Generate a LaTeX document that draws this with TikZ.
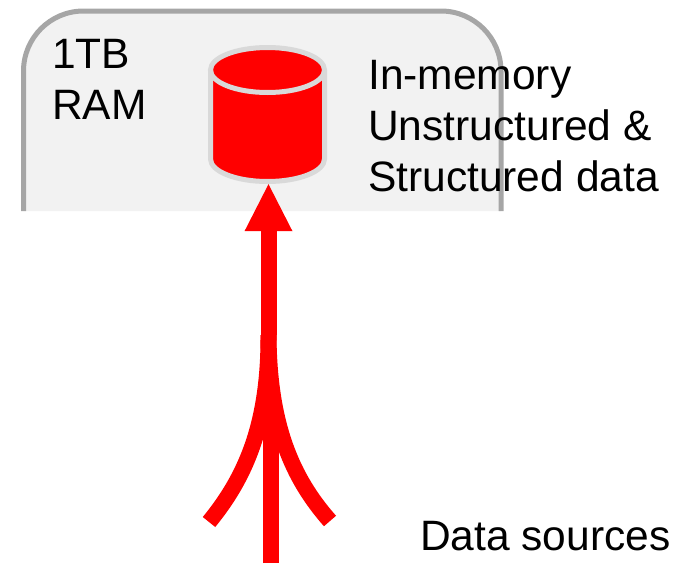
\documentclass[tikz,border=0pt]{standalone}
\usepackage{fontspec}
\setmainfont{Liberation Sans}
\usetikzlibrary{arrows.meta}
\definecolor{boxfill}{HTML}{F2F2F2}
\definecolor{boxline}{HTML}{A6A6A6}
\definecolor{dbline}{HTML}{D9D9D9}
\tikzset{
  label text/.style={anchor=north west,inner sep=0pt,align=left,font=\fontsize{42.5}{51}\selectfont,text=black},
  flow/.style={draw=red,line width=16pt,line cap=butt},
  flow head/.style={-{Triangle[length=47pt,width=48pt,color=red,line width=0pt]}},
  db edge/.style={draw=dbline,line width=5pt},
}
\begin{document}
\begin{tikzpicture}[x=1pt,y=-1pt]
\useasboundingbox (0,0) rectangle (689,563);
% RAM box, open at the bottom
\fill[boxfill] (23.5,211) -- (23.5,71) arc[start angle=180,end angle=270,radius=60] -- (441,11) arc[start angle=270,end angle=360,radius=60] -- (501,211) -- cycle;
\draw[boxline,line width=5pt] (23.5,211) -- (23.5,71) arc[start angle=180,end angle=270,radius=60] -- (441,11) arc[start angle=270,end angle=360,radius=60] -- (501,211);
% Database cylinder
\path[fill=red] (210.5,70) -- (210.5,159) arc[x radius=57,y radius=22.5,start angle=180,end angle=0] -- (324.5,70) arc[x radius=57,y radius=22.5,start angle=0,end angle=-180] -- cycle;
\draw[db edge] (210.5,70) -- (210.5,159) arc[x radius=57,y radius=22.5,start angle=180,end angle=0] -- (324.5,70);
\draw[db edge] (267.5,70) ellipse[x radius=57,y radius=22.5];
\node[inner sep=0pt,minimum width=119pt,minimum height=139pt] (db) at (268.5,114.5) {};
% Labels
\node[label text] (ram) at (52,39) {1TB\\RAM};
\node[label text] (mem) at (368,60) {In-memory\\Unstructured \&\\Structured data};
\node[label text,anchor=base west] (src) at (420,550) {Data sources};
% Flows
\coordinate (merge) at (268.5,335);
\coordinate (srcL) at (209,522);
\coordinate (srcR) at (330,521);
\coordinate (srcC) at (270.7,563);
\draw[flow,flow head] (merge) -- (merge |- db.south);
\draw[flow] (srcL) .. controls (245,478) and (269,425) .. (merge);
\draw[flow] (srcR) .. controls (292,478) and (269,425) .. (merge);
\draw[flow] (srcC) -- (270.7,380);
\end{tikzpicture}
\end{document}
